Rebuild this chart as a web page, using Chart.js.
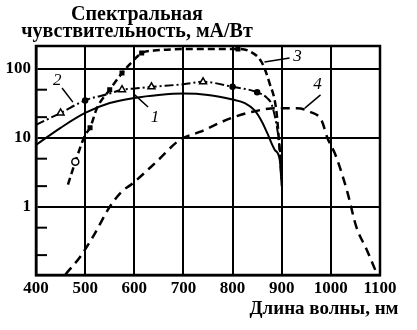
<!DOCTYPE html>
<html>
<head>
<meta charset="utf-8">
<script src="https://cdn.jsdelivr.net/npm/chart.js@4"></script>
<style>
  body { margin: 0; background: #fff; }
  canvas { display: block; }
</style>
</head>
<body>
<canvas id="grafica" width="417" height="330"></canvas>
<script>
// длины волн (нм) и чувствительность (мА/Вт) для кривых 1-4
const wl1 = [400, 450, 500, 550, 600, 650, 700, 750, 800, 825, 845, 860, 870, 886, 896, 900];
const s1  = [7.9, 14, 23, 32, 38, 42, 44, 42, 36, 32, 25, 17, 12, 6.7, 4.8, 2];

const wl2 = [400, 450, 500, 550, 575, 600, 635, 700, 740, 800, 850, 870, 880, 892, 900];
const s2  = [15.5, 23, 35, 44, 50, 52, 55, 60, 65, 55, 46, 38, 30, 12, 3.8];

const wl3 = [465, 480, 500, 510, 524, 550, 575, 595, 615, 640, 666, 700, 733, 780, 811, 835, 859, 875, 889, 895, 900];
const s3  = [2.1, 4.5, 11, 14, 27, 50, 87, 126, 170, 185, 190, 195, 195, 195, 195, 180, 126, 63, 25, 8, 2.5];

const wl4 = [460, 490, 516, 550, 574, 597, 645, 693, 733, 794, 841, 890, 931, 957, 981, 993, 1008, 1018, 1034, 1052, 1073, 1093];
const s4  = [0.105, 0.19, 0.37, 1.0, 1.65, 2.2, 4.5, 9.4, 12.2, 19, 24, 27, 27, 24, 18, 10, 6, 3.8, 1.6, 0.51, 0.24, 0.11];

// точки с маркерами
const tri2 = [450, 575, 635, 740];
const dot2 = [500, 800, 850];
const circ3 = [480];
const dot3 = [510, 550, 575, 615, 690, 811, 855];

const xTicks = [400, 500, 600, 700, 800, 900, 1000, 1100];
const yTicks = [1, 10, 100];
const yMinor = [0.2, 0.5, 2, 5, 20, 50];

// номера кривых: [текст, x, y, линия от (x,y) до (x,y)]
const labels = [
  ["1", 642, 20, 628, 28, 601, 42],
  ["2", 443, 69, 453, 53, 475, 33],
  ["3", 932, 149, 916, 144, 865, 126],
  ["4", 973, 59, 979, 42, 947, 27]
];

const pts = (xs, ys) => xs.map((x, i) => ({ x: x, y: ys[i] }));
const serif = "'Liberation Serif', 'DejaVu Serif', serif";

const extras = {
  id: "extras",
  afterDraw(chart) {
    const c = chart.ctx;
    const a = chart.chartArea;
    const sx = chart.scales.x, sy = chart.scales.y;
    c.save();
    c.strokeStyle = "#000";
    c.lineWidth = 2.5;
    c.strokeRect(a.left, a.top, a.right - a.left, a.bottom - a.top);

    c.lineWidth = 2;
    yMinor.forEach(v => {
      const y = sy.getPixelForValue(v);
      c.beginPath();
      c.moveTo(a.left, y);
      c.lineTo(a.left + 11, y);
      c.stroke();
    });

    c.fillStyle = "#000";
    c.textAlign = "center";
    c.font = "bold 20px " + serif;
    c.fillText("Спектральная", 137, 20);
    c.fillText("чувствительность, мА/Вт", 137, 37);
    c.font = "bold 19px " + serif;
    c.fillText("Длина волны, нм", 324, 314);

    c.font = "italic 17px " + serif;
    c.textBaseline = "middle";
    c.lineWidth = 1.5;
    labels.forEach(l => {
      c.fillText(l[0], sx.getPixelForValue(l[1]), sy.getPixelForValue(l[2]));
      c.beginPath();
      c.moveTo(sx.getPixelForValue(l[3]), sy.getPixelForValue(l[4]));
      c.lineTo(sx.getPixelForValue(l[5]), sy.getPixelForValue(l[6]));
      c.stroke();
    });
    c.restore();
  }
};

new Chart(document.getElementById("grafica").getContext("2d"), {
  type: "line",
  data: {
    datasets: [
      {
        data: pts(wl1, s1),
        borderColor: "#000",
        borderWidth: 2,
        pointRadius: 0,
        cubicInterpolationMode: "monotone"
      },
      {
        data: pts(wl2, s2),
        borderColor: "#000",
        borderWidth: 2,
        borderDash: [9, 3, 2, 3],
        cubicInterpolationMode: "monotone",
        pointStyle: c => tri2.includes(c.raw && c.raw.x) ? "triangle" : "circle",
        pointRadius: c => tri2.includes(c.raw && c.raw.x) ? 4 : (dot2.includes(c.raw && c.raw.x) ? 2.5 : 0),
        pointBackgroundColor: c => tri2.includes(c.raw && c.raw.x) ? "#fff" : "#000",
        pointBorderColor: "#000",
        pointBorderWidth: 1.5
      },
      {
        data: pts(wl3, s3),
        borderColor: "#000",
        borderWidth: 2.5,
        borderDash: [7, 4],
        cubicInterpolationMode: "monotone",
        pointStyle: c => circ3.includes(c.raw && c.raw.x) ? "circle" : "rect",
        pointRadius: c => circ3.includes(c.raw && c.raw.x) ? 3.5 : (dot3.includes(c.raw && c.raw.x) ? 2.5 : 0),
        pointBackgroundColor: c => circ3.includes(c.raw && c.raw.x) ? "#fff" : "#000",
        pointBorderColor: "#000",
        pointBorderWidth: 1.5
      },
      {
        data: pts(wl4, s4),
        borderColor: "#000",
        borderWidth: 2.5,
        borderDash: [9, 6],
        pointRadius: 0,
        cubicInterpolationMode: "monotone"
      }
    ]
  },
  options: {
    responsive: false,
    animation: false,
    devicePixelRatio: 1,
    layout: { padding: { top: 46, right: 37, left: 0, bottom: 0 } },
    plugins: { legend: { display: false }, tooltip: { enabled: false } },
    scales: {
      x: {
        type: "linear",
        min: 400,
        max: 1100,
        afterBuildTicks: s => { s.ticks = xTicks.map(v => ({ value: v })); },
        afterFit: s => { s.height = 55; },
        ticks: { color: "#000", font: { family: serif, size: 17, weight: "bold" }, padding: 3, maxRotation: 0, callback: v => String(v) },
        grid: { color: "#000", lineWidth: 2, drawTicks: false },
        border: { color: "#000", width: 2.5 }
      },
      y: {
        type: "logarithmic",
        min: 0.103,
        max: 215,
        afterBuildTicks: s => { s.ticks = yTicks.map(v => ({ value: v })); },
        afterFit: s => { s.width = 36; },
        ticks: { color: "#000", font: { family: serif, size: 17, weight: "bold" }, padding: 5, callback: v => String(v) },
        grid: { color: "#000", lineWidth: 2, drawTicks: false },
        border: { color: "#000", width: 2.5 }
      }
    }
  },
  plugins: [extras]
});
</script>
</body>
</html>
